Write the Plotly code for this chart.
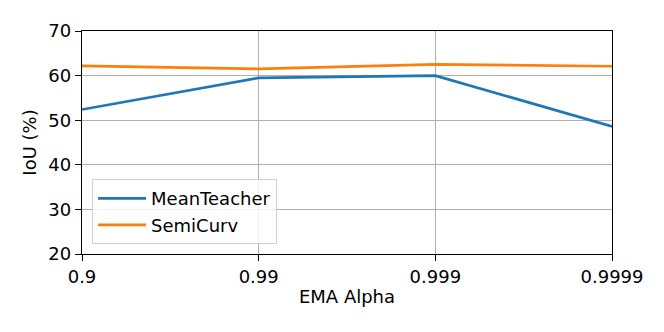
import plotly.graph_objects as go

# ── Data ────────────────────────────────────────────────────
ema_alpha    = ['0.9', '0.99', '0.999', '0.9999']
mean_teacher = [52.4, 59.5, 60.0, 48.6]
semicurv     = [62.2, 61.5, 62.5, 62.1]

y_ticks = [20, 30, 40, 50, 60, 70]

fig = go.Figure()

fig.add_trace(go.Scatter(
    x=ema_alpha, y=mean_teacher,
    mode='lines', name='MeanTeacher',
    line=dict(color='#1f77b4', width=2.7)
))
fig.add_trace(go.Scatter(
    x=ema_alpha, y=semicurv,
    mode='lines', name='SemiCurv',
    line=dict(color='#ff7f0e', width=2.7)
))

axis_font = dict(family='DejaVu Sans', size=18, color='black')

# page has an 8px body margin, so the figure is sized/margined around that
fig.update_layout(
    width=648, height=316,
    margin=dict(l=74, r=44, t=19, b=70),
    plot_bgcolor='white',
    paper_bgcolor='white',
    font=axis_font,
    legend=dict(
        x=0.019, y=0.044, xanchor='left', yanchor='bottom',
        bgcolor='rgba(255,255,255,0.8)',
        bordercolor='#d0d0d0', borderwidth=1,
        font=dict(family='DejaVu Sans', size=18, color='black'),
        itemwidth=48, tracegroupgap=0
    ),
    xaxis=dict(
        title=dict(text='EMA Alpha', font=axis_font, standoff=4),
        type='category', range=[0, 3],
        showgrid=True, gridcolor='#b0b0b0', gridwidth=1.4,
        showline=True, linecolor='black', linewidth=1.4, mirror=True,
        ticks='outside', ticklen=6, tickwidth=1.4, tickcolor='black',
        zeroline=False
    ),
    yaxis=dict(
        title=dict(text='IoU (%)', font=axis_font, standoff=6),
        range=[20, 70], tickvals=y_ticks,
        showgrid=True, gridcolor='#b0b0b0', gridwidth=1.4,
        showline=True, linecolor='black', linewidth=1.4, mirror=True,
        ticks='outside', ticklen=6, tickwidth=1.4, tickcolor='black',
        zeroline=False
    )
)

fig.write_html("out.html")
